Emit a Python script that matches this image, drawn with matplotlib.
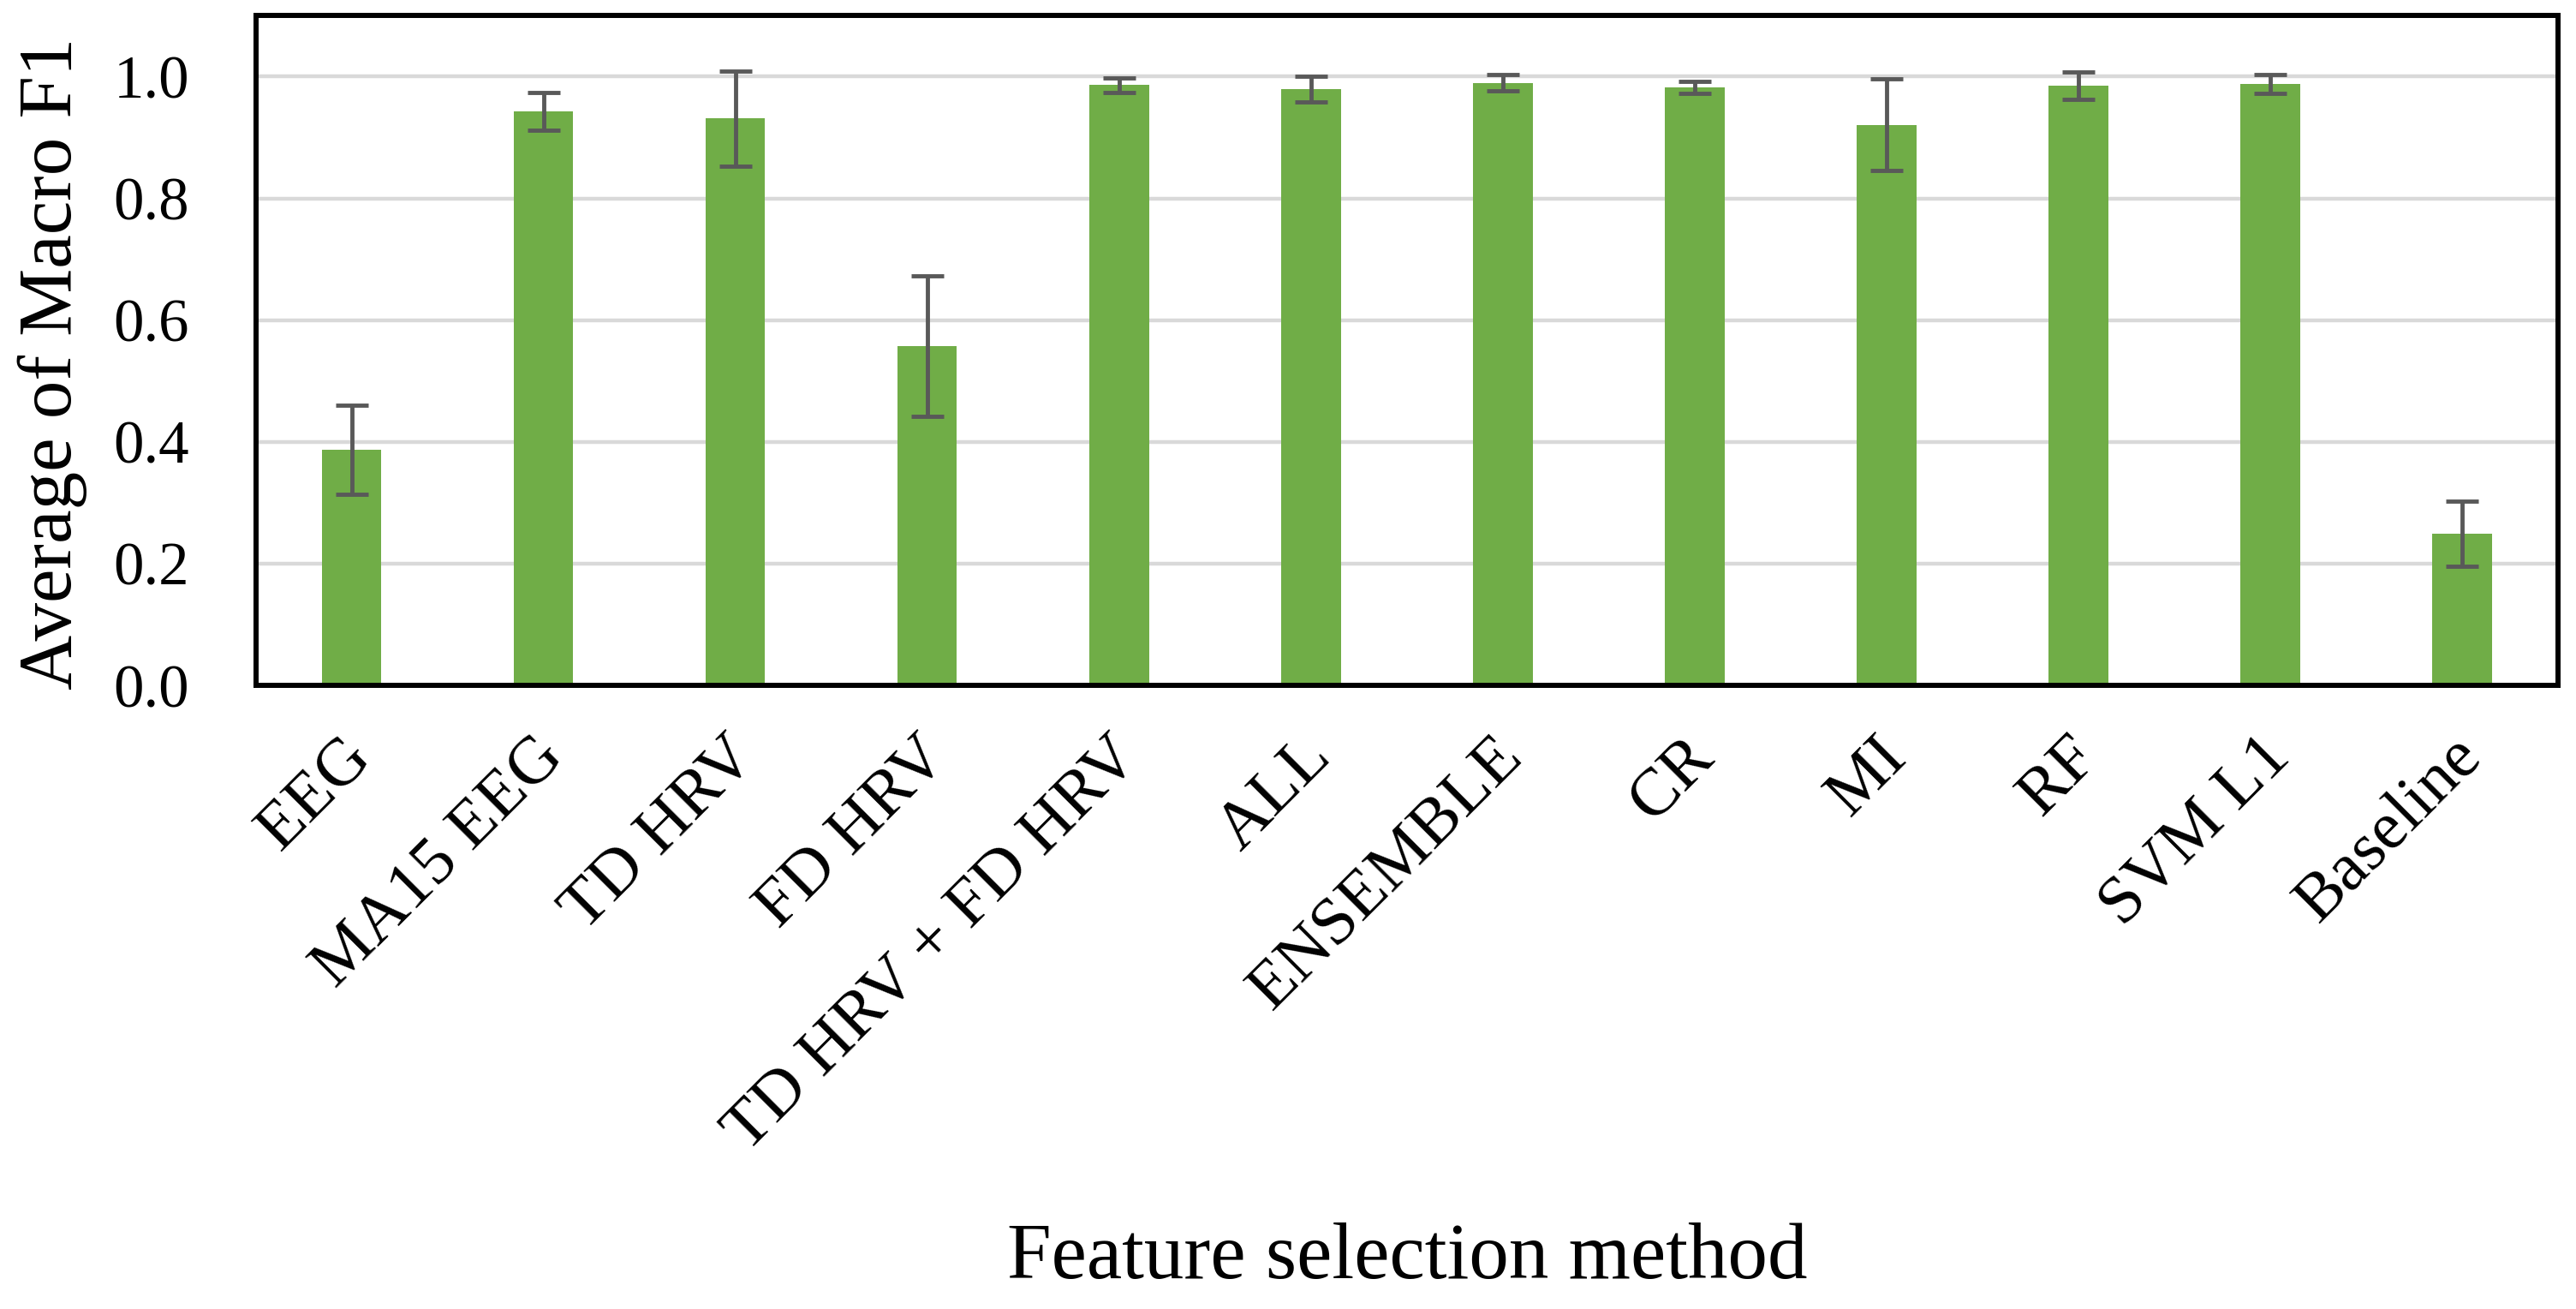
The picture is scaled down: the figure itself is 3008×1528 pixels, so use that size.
import matplotlib
matplotlib.use("Agg")
import matplotlib.pyplot as plt
import matplotlib.transforms as mtransforms
import numpy as np

categories = ["EEG", "MA15 EEG", "TD HRV", "FD HRV", "TD HRV + FD HRV", "ALL",
              "ENSEMBLE", "CR", "MI", "RF", "SVM L1", "Baseline"]
mean_f1 = [0.387, 0.943, 0.931, 0.557, 0.986, 0.980, 0.990, 0.982, 0.921, 0.985, 0.988, 0.249]
err_f1 = [0.073, 0.031, 0.078, 0.115, 0.012, 0.021, 0.014, 0.010, 0.075, 0.022, 0.016, 0.053]
yticks = [0.0, 0.2, 0.4, 0.6, 0.8, 1.0]

plt.rcParams['font.family'] = ['Liberation Serif', 'DejaVu Serif']

fig = plt.figure(figsize=(30.08, 15.28), dpi=100)
ax = fig.add_axes([0.0993, 0.4764, 0.8937, 0.5116])

x = np.arange(len(categories))
ax.bar(x, mean_f1, width=0.31, color="#70AD47", zorder=2)
ax.errorbar(x, mean_f1, yerr=err_f1, fmt="none", ecolor="#595959",
            elinewidth=3.5, capsize=14, capthick=3.5, zorder=3)

ax.set_xlim(-0.5, len(categories) - 0.5)
ax.set_ylim(0, 1.1)
ax.set_yticks(yticks)
ax.set_yticklabels([f"{v:.1f}" for v in yticks], fontsize=51)
ax.yaxis.grid(True, color="#D9D9D9", linewidth=3.2, zorder=0)
ax.set_axisbelow(True)
ax.tick_params(axis="y", length=0, pad=56)
ax.tick_params(axis="x", length=0, pad=52)

ax.set_xticks(x)
ax.set_xticklabels(categories, fontsize=57, rotation=45, ha="right",
                   rotation_mode="anchor", va="center")
offset = mtransforms.ScaledTranslation(12 / 100, 0, fig.dpi_scale_trans)
for lbl in ax.get_xticklabels():
    lbl.set_transform(lbl.get_transform() + offset)

for sp in ax.spines.values():
    sp.set_linewidth(4.3)
    sp.set_color("black")

ax.set_ylabel("Average of Macro F1", fontsize=64, va="center")
ax.yaxis.set_label_coords(-0.0885, 0.48)
ax.set_xlabel("Feature selection method", fontsize=67, va="center")
ax.xaxis.set_label_coords(0.5, -0.857)

fig.savefig("out.png", dpi=100, facecolor="white")
